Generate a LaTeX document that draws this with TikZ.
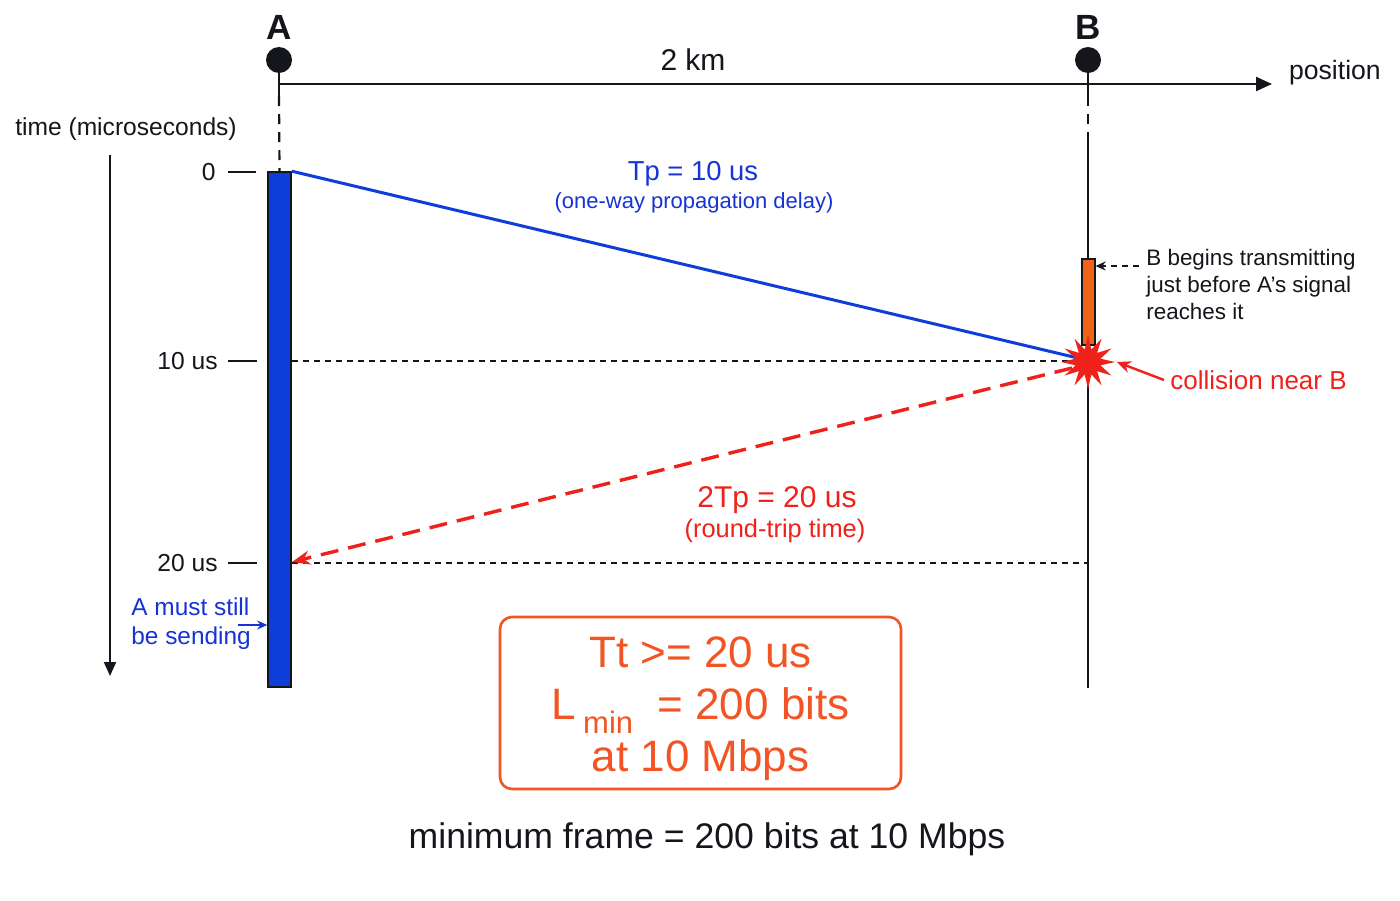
\documentclass[tikz,border=0pt]{standalone}
\usepackage{fontspec}
\setmainfont{Liberation Sans}
\usetikzlibrary{arrows.meta,shapes.geometric}
\definecolor{ink}{RGB}{20,22,28}
\definecolor{ablue}{RGB}{14,62,218}
\definecolor{tblue}{RGB}{22,52,212}
\definecolor{cred}{RGB}{238,34,26}
\definecolor{borange}{RGB}{238,100,22}
\definecolor{boxred}{RGB}{242,84,36}
\newcommand{\fs}[1]{\fontsize{#1}{1.2\dimexpr#1pt\relax}\selectfont}
\tikzset{
  dotnode/.style={circle,fill=ink,minimum size=13pt,inner sep=0pt},
  headlab/.style={font=\bfseries\fs{17.5},text=ink,inner sep=0pt},
  plain/.style={draw=ink,line width=1pt},
  dashline/.style={draw=ink,line width=0.9pt,dash pattern=on 3pt off 2.5pt},
  stemdash/.style={draw=ink,line width=1.1pt,dash pattern=on 5pt off 4pt},
  ticklab/.style={font=\fs{12.3},text=ink,inner sep=0pt,anchor=east},
  abar/.style={rectangle,fill=ablue,draw=ink,line width=0.8pt,minimum width=11.5pt,minimum height=257.5pt,inner sep=0pt},
  bbar/.style={rectangle,fill=borange,draw=ink,line width=0.6pt,minimum width=6.5pt,minimum height=43pt,inner sep=0pt},
  boom/.style={star,star points=12,star point ratio=2.1,fill=cred,minimum size=27pt,inner sep=0pt},
  propline/.style={draw=ablue,line width=1.5pt},
  rtline/.style={draw=cred,line width=1.7pt,dash pattern=on 9pt off 5pt,-{Stealth[length=9pt,width=7pt]}},
  resultbox/.style={draw=boxred,line width=1.3pt,rounded corners=6pt,minimum width=200.5pt,minimum height=86pt},
  boxtext/.style={text=boxred,align=center,font=\fontsize{22}{26}\selectfont,inner sep=0pt}
}
\begin{document}
\begin{tikzpicture}[x=0.5pt,y=-0.5pt]
\useasboundingbox[fill=white] (0,0) rectangle (1400,900);

% stations
\node[dotnode] (Adot) at (279,60) {};
\node[dotnode] (Bdot) at (1088,60) {};
\node[headlab] (Alab) at (279,27) {A};
\node[headlab] (Blab) at (1088,27) {B};

% position axis
\coordinate (Aax) at (279,84);
\coordinate (Bax) at (1088,84);
\coordinate (posend) at (1272,84);
\draw[plain,-{Triangle[length=8pt,width=7pt]}] (Aax) -- (posend);
\draw[plain,line width=1.3pt] (Adot) -- ([yshift=-6pt]Aax);
\draw[plain,line width=1.3pt] (Bdot) -- ([yshift=-6pt]Bax);
\node[font=\fs{15},text=ink] (km) at (693,60) {2 km};
\node[font=\fs{13.3},text=ink,anchor=west] (pos) at (1282,73) {position};

% A bar
\node[abar] (Abar) at (279.5,429.5) {};
\draw[stemdash] ([yshift=-6pt]Aax) -- (Abar.north);

% B line
\coordinate (Bmid) at (1088,140);
\coordinate (Bend) at (1088,688);
\draw[stemdash] ([yshift=-6pt]Bax) -- (Bmid);
\draw[plain] (Bmid) -- (Bend);
\node[bbar] (Bbar) at (1088.5,302) {};

% time axis
\node[font=\fs{12.3},text=ink] (tlab) at (126,129) {time (microseconds)};
\coordinate (tT) at (110,155);
\coordinate (tB) at (110,676);
\draw[plain,-{Triangle[length=7pt,width=6pt]}] (tT) -- (tB);

% ticks
\node[ticklab] (t0) at (216,172) {0};
\node[ticklab] (t10) at (218,361) {10 us};
\node[ticklab] (t20) at (218,563) {20 us};
\coordinate (k0a) at (228,172); \coordinate (k0b) at (256,172);
\coordinate (k10a) at (228,361); \coordinate (k10b) at (257,361);
\coordinate (k20a) at (228,563); \coordinate (k20b) at (257,563);
\draw[plain] (k0a) -- (k0b);
\draw[plain] (k10a) -- (k10b);
\draw[plain] (k20a) -- (k20b);

% dashed guide lines
\coordinate (g10a) at (292,361); \coordinate (g10b) at (1088,361);
\coordinate (g20a) at (292,563); \coordinate (g20b) at (1088,563);
\draw[dashline] (g10a) -- (g10b);
\draw[dashline] (g20a) -- (g20b);

% propagation line
\coordinate (collide) at (1082,359);
\draw[propline] (Abar.north east) -- (collide);
\node[font=\fs{13.7},text=tblue] (tp) at (693,174) {Tp = 10 us};
\node[font=\fs{11},text=tblue] (tpsub) at (694,203) {(one-way propagation delay)};

% collision star
\node[boom] (star) at (1088,362) {};

% round trip
\coordinate (rtstart) at (1072,368);
\coordinate (rtend) at (292,562);
\draw[rtline] (rtstart) -- (rtend);
\node[font=\fs{15},text=cred] (rt) at (777,500) {2Tp = 20 us};
\node[font=\fs{12.7},text=cred] (rtsub) at (775,531) {(round-trip time)};

% B annotation
\coordinate (bnA) at (1139,266);
\draw[draw=ink,line width=0.8pt,dash pattern=on 3pt off 2.5pt,-{Stealth[length=5pt,width=4.5pt]}] (bnA) -- (Bbar.east |- bnA);
\node[font=\fs{11.2},text=ink,align=left,anchor=north west,inner sep=0pt] (bnote) at (1146,249) {\baselineskip=13pt B begins transmitting\\just before A's signal\\reaches it};

% collision label
\node[font=\fs{13},text=cred,anchor=west,inner sep=0pt] (coll) at (1170,380) {collision near B};
\draw[draw=cred,line width=1.2pt,-{Stealth[length=7pt,width=6pt]}] (coll.west) ++(-6,0) -- (star.east);

% A must still be sending
\node[font=\fs{12.2},text=tblue,align=left,anchor=west,inner sep=0pt] (must) at (131,624) {A must still\\be sending};
\coordinate (mustA) at (238,625);
\draw[draw=tblue,line width=1pt,-{Stealth[length=5pt,width=4.5pt]}] (mustA) -- (Abar.west |- mustA);

% result box
\node[resultbox] (box) at (700.5,703) {};
\node[boxtext] (boxtxt) at (700.5,709) {Tt >= 20 us\\L\,\raisebox{-0.32em}{\fs{15.5}min}\ \ =\ 200 bits\\at 10 Mbps};

% bottom caption
\node[font=\fs{17.8},text=ink] (cap) at (707,839) {minimum frame = 200 bits at 10 Mbps};
\end{tikzpicture}
\end{document}
